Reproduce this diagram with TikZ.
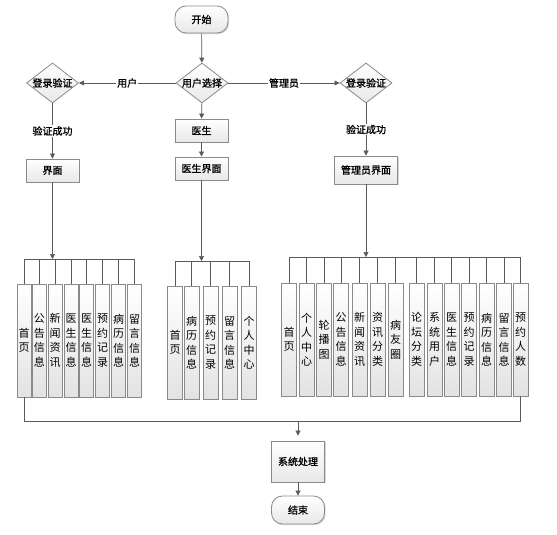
\documentclass[tikz,border=0pt]{standalone}
\usepackage{fontspec}
\newfontfamily\cjk{Noto Sans CJK SC}
\newfontfamily\cjkb[FakeBold=1.2]{Noto Sans CJK SC}
\usetikzlibrary{shapes.geometric,arrows.meta,shadows,shadings}
\definecolor{ln}{HTML}{5A5A5A}
\definecolor{bd}{HTML}{8A8A8A}
\begin{document}
\begin{tikzpicture}[x=1pt,y=-1pt,
  lbl/.style={font=\cjkb\fontsize{10}{12}\selectfont, text=black},
  box/.style={lbl, draw=bd, line width=0.8pt, top color=white, bottom color=black!9,
    minimum width=53pt, minimum height=23pt, inner sep=0pt,
    drop shadow={shadow xshift=1.2pt, shadow yshift=-1.2pt, opacity=0.3}},
  term/.style={box, rounded corners=11pt, minimum height=27pt},
  dia/.style={lbl, diamond, draw=bd, line width=0.8pt, top color=white, bottom color=black!9,
    minimum width=52pt, minimum height=40pt, inner sep=0pt, aspect=1.3},
  col/.style={draw=bd, line width=0.8pt, top color=white, bottom color=black!11,
    minimum width=14pt, minimum height=113pt, inner sep=0pt, align=center,
    font=\cjk\fontsize{11}{14.5}\selectfont},
  mcol/.style={col, minimum width=15pt},
  con/.style={draw=ln, line width=0.7pt},
  arr/.style={con, -{Triangle[length=5pt,width=5pt]}},
  elab/.style={lbl, fill=white, inner sep=1pt}
]
\useasboundingbox (0,0) rectangle (557,535);

% top flow
\node[term] (start) at (201.5,19.5) {开始};
\node[dia] (sel) at (202,83) {用户选择};
\node[dia] (vl) at (52.5,83) {登录验证};
\node[dia] (vr) at (366,83) {登录验证};
\node[box] (doc) at (201.5,130.5) {医生};
\node[box] (doci) at (201.5,168.5) {医生界面};
\node[box] (ui) at (52.5,170.5) {界面};
\node[box, minimum width=63pt, minimum height=28pt] (admi) at (366,170) {管理员界面};

\draw[arr] (start) -- (sel);
\draw[arr] (sel) -- node[elab]{用户} (vl);
\draw[arr] (sel) -- node[elab]{管理员} (vr);
\draw[arr] (vl) -- node[elab]{验证成功} (ui);
\draw[arr] (vr) -- node[elab]{验证成功} (admi);
\draw[arr] (sel) -- (doc);
\draw[arr] (doc) -- (doci);

% left group
\node[col] (L1) at (24,340.5) {首\\页};
\node[col] (L2) at (39.5,340.5) {公\\告\\信\\息};
\node[col] (L3) at (55,340.5) {新\\闻\\资\\讯};
\node[col] (L4) at (71,340.5) {医\\生\\信\\息};
\node[col] (L5) at (86.5,340.5) {医\\生\\信\\息};
\node[col] (L6) at (102.5,340.5) {预\\约\\记\\录};
\node[col] (L7) at (118.5,340.5) {病\\历\\信\\息};
\node[col] (L8) at (134.5,340.5) {留\\言\\信\\息};

% middle group
\node[mcol] (M1) at (175,342.5) {首\\页};
\node[mcol] (M2) at (191.5,342.5) {病\\历\\信\\息};
\node[mcol] (M3) at (210.5,342.5) {预\\约\\记\\录};
\node[mcol] (M4) at (229.5,342.5) {留\\言\\信\\息};
\node[mcol] (M5) at (249,342.5) {个\\人\\中\\心};

% right group
\node[mcol] (R1) at (289,339.5) {首\\页};
\node[mcol] (R2) at (306.5,339.5) {个\\人\\中\\心};
\node[mcol] (R3) at (324,339.5) {轮\\播\\图};
\node[mcol] (R4) at (341,339.5) {公\\告\\信\\息};
\node[mcol] (R5) at (359.5,339.5) {新\\闻\\资\\讯};
\node[mcol] (R6) at (377.5,339.5) {资\\讯\\分\\类};
\node[mcol] (R7) at (395.5,339.5) {病\\友\\圈};
\node[mcol] (R8) at (416.5,339.5) {论\\坛\\分\\类};
\node[mcol] (R9) at (434.5,339.5) {系\\统\\用\\户};
\node[mcol] (R10) at (451.5,339.5) {医\\生\\信\\息};
\node[mcol] (R11) at (469,339.5) {预\\约\\记\\录};
\node[mcol] (R12) at (486.5,339.5) {病\\历\\信\\息};
\node[mcol] (R13) at (504,339.5) {留\\言\\信\\息};
\node[mcol] (R14) at (520.5,339.5) {预\\约\\人\\数};

% buses
\coordinate (bL) at (52.5,259);
\coordinate (bM) at (201.5,261);
\coordinate (bR) at (366,257);
\draw[arr] (ui) -- (bL);
\draw[arr] (doci) -- (bM);
\draw[arr] (admi) -- (bR);

\draw[con] (L1.north) |- (L8.north |- bL) -- (L8.north);
\foreach \n in {2,...,7} \draw[con] (L\n.north) -- (L\n.north |- bL);
\draw[con] (M1.north) |- (M5.north |- bM) -- (M5.north);
\foreach \n in {2,...,4} \draw[con] (M\n.north) -- (M\n.north |- bM);
\draw[con] (R1.north) |- (R14.north |- bR) -- (R14.north);
\foreach \n in {2,...,13} \draw[con] (R\n.north) -- (R\n.north |- bR);

% bottom
\node[box, minimum height=41pt] (sys) at (298,461.5) {系统处理};
\node[term, minimum height=28pt] (end) at (298,510) {结束};
\coordinate (bB) at (298,421);
\draw[con] (L1.south) |- (R14.south |- bB) -- (R14.south);
\draw[arr, shorten >=5pt] (bB) -- (sys);
\draw[arr] (sys) -- (end);
\end{tikzpicture}
\end{document}
